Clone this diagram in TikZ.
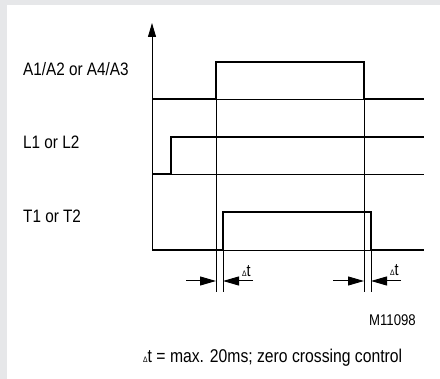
\documentclass[tikz,border=0pt]{standalone}
\usepackage{fontspec}
\setmainfont[FakeStretch=0.85]{Liberation Sans}
\usetikzlibrary{arrows.meta}
\definecolor{bggray}{HTML}{E6E7E9}
\newcommand{\dtri}{{\fontsize{8}{8}\selectfont Δ}}
\begin{document}
\begin{tikzpicture}[x=1pt,y=-1pt,
  sig/.style={line width=2.4pt,line join=miter},
  thin/.style={line width=0.9pt},
  lbl/.style={anchor=base west,inner sep=0pt,font=\fontsize{18}{18}\selectfont},
  dim/.style={line width=1pt,-{Triangle[length=16pt,width=9pt]}}]
\useasboundingbox (0,0) rectangle (440,379);
\fill[bggray] (0,0) rectangle (440,379);
\fill[white] (7,5) rectangle (440,379);
% axis
\coordinate (ax0) at (152,251);
\coordinate (ax1) at (152,23);
\draw[thin,-{Triangle[length=14pt,width=8pt]}] (ax0) -- (ax1);
% thin guide lines
\draw[thin] (216,62) -- (216,292);
\draw[thin] (364,62) -- (364,292);
\draw[thin] (223,212) -- (223,292);
\draw[thin] (371,212) -- (371,292);
\draw[thin] (216,99) -- (364,99);
\draw[thin] (171,174) -- (424,174);
\draw[thin] (223,250) -- (371,250);
% signals
\draw[sig] (152,99) -- (216,99) -- (216,62) -- (364,62) -- (364,99) -- (424,99);
\draw[sig] (152,174) -- (171,174) -- (171,137) -- (424,137);
\draw[sig] (152,250) -- (223,250) -- (223,212) -- (371,212) -- (371,250) -- (424,250);
% labels
\node[lbl] (la) at (23,76) {A1/A2 or A4/A3};
\node[lbl] (ll) at (23,149) {L1 or L2};
\node[lbl] (lt) at (23,223) {T1 or T2};
% delta t dimension arrows
\coordinate (d1s) at (186,281); \coordinate (d1e) at (216,281);
\coordinate (d2s) at (253,281); \coordinate (d2e) at (223,281);
\coordinate (d3s) at (333,281); \coordinate (d3e) at (364,281);
\coordinate (d4s) at (401,281); \coordinate (d4e) at (371,281);
\draw[dim] (d1s) -- (d1e);
\draw[dim] (d2s) -- (d2e);
\draw[dim] (d3s) -- (d3e);
\draw[dim] (d4s) -- (d4e);
\node[lbl,font=\fontsize{17}{17}\selectfont] (dt1) at (242,277) {\dtri t};
\node[lbl,font=\fontsize{17}{17}\selectfont] (dt2) at (390,276) {\dtri t};
% code and footnote
\node[anchor=base east,inner sep=0pt,font=\fontsize{15.5}{15.5}\selectfont] (code) at (416,326) {M11098};
\node[lbl,font=\fontsize{18.5}{18.5}\selectfont] (note) at (143,363) {\dtri t = max. 20ms; zero crossing control};
\end{tikzpicture}
\end{document}
